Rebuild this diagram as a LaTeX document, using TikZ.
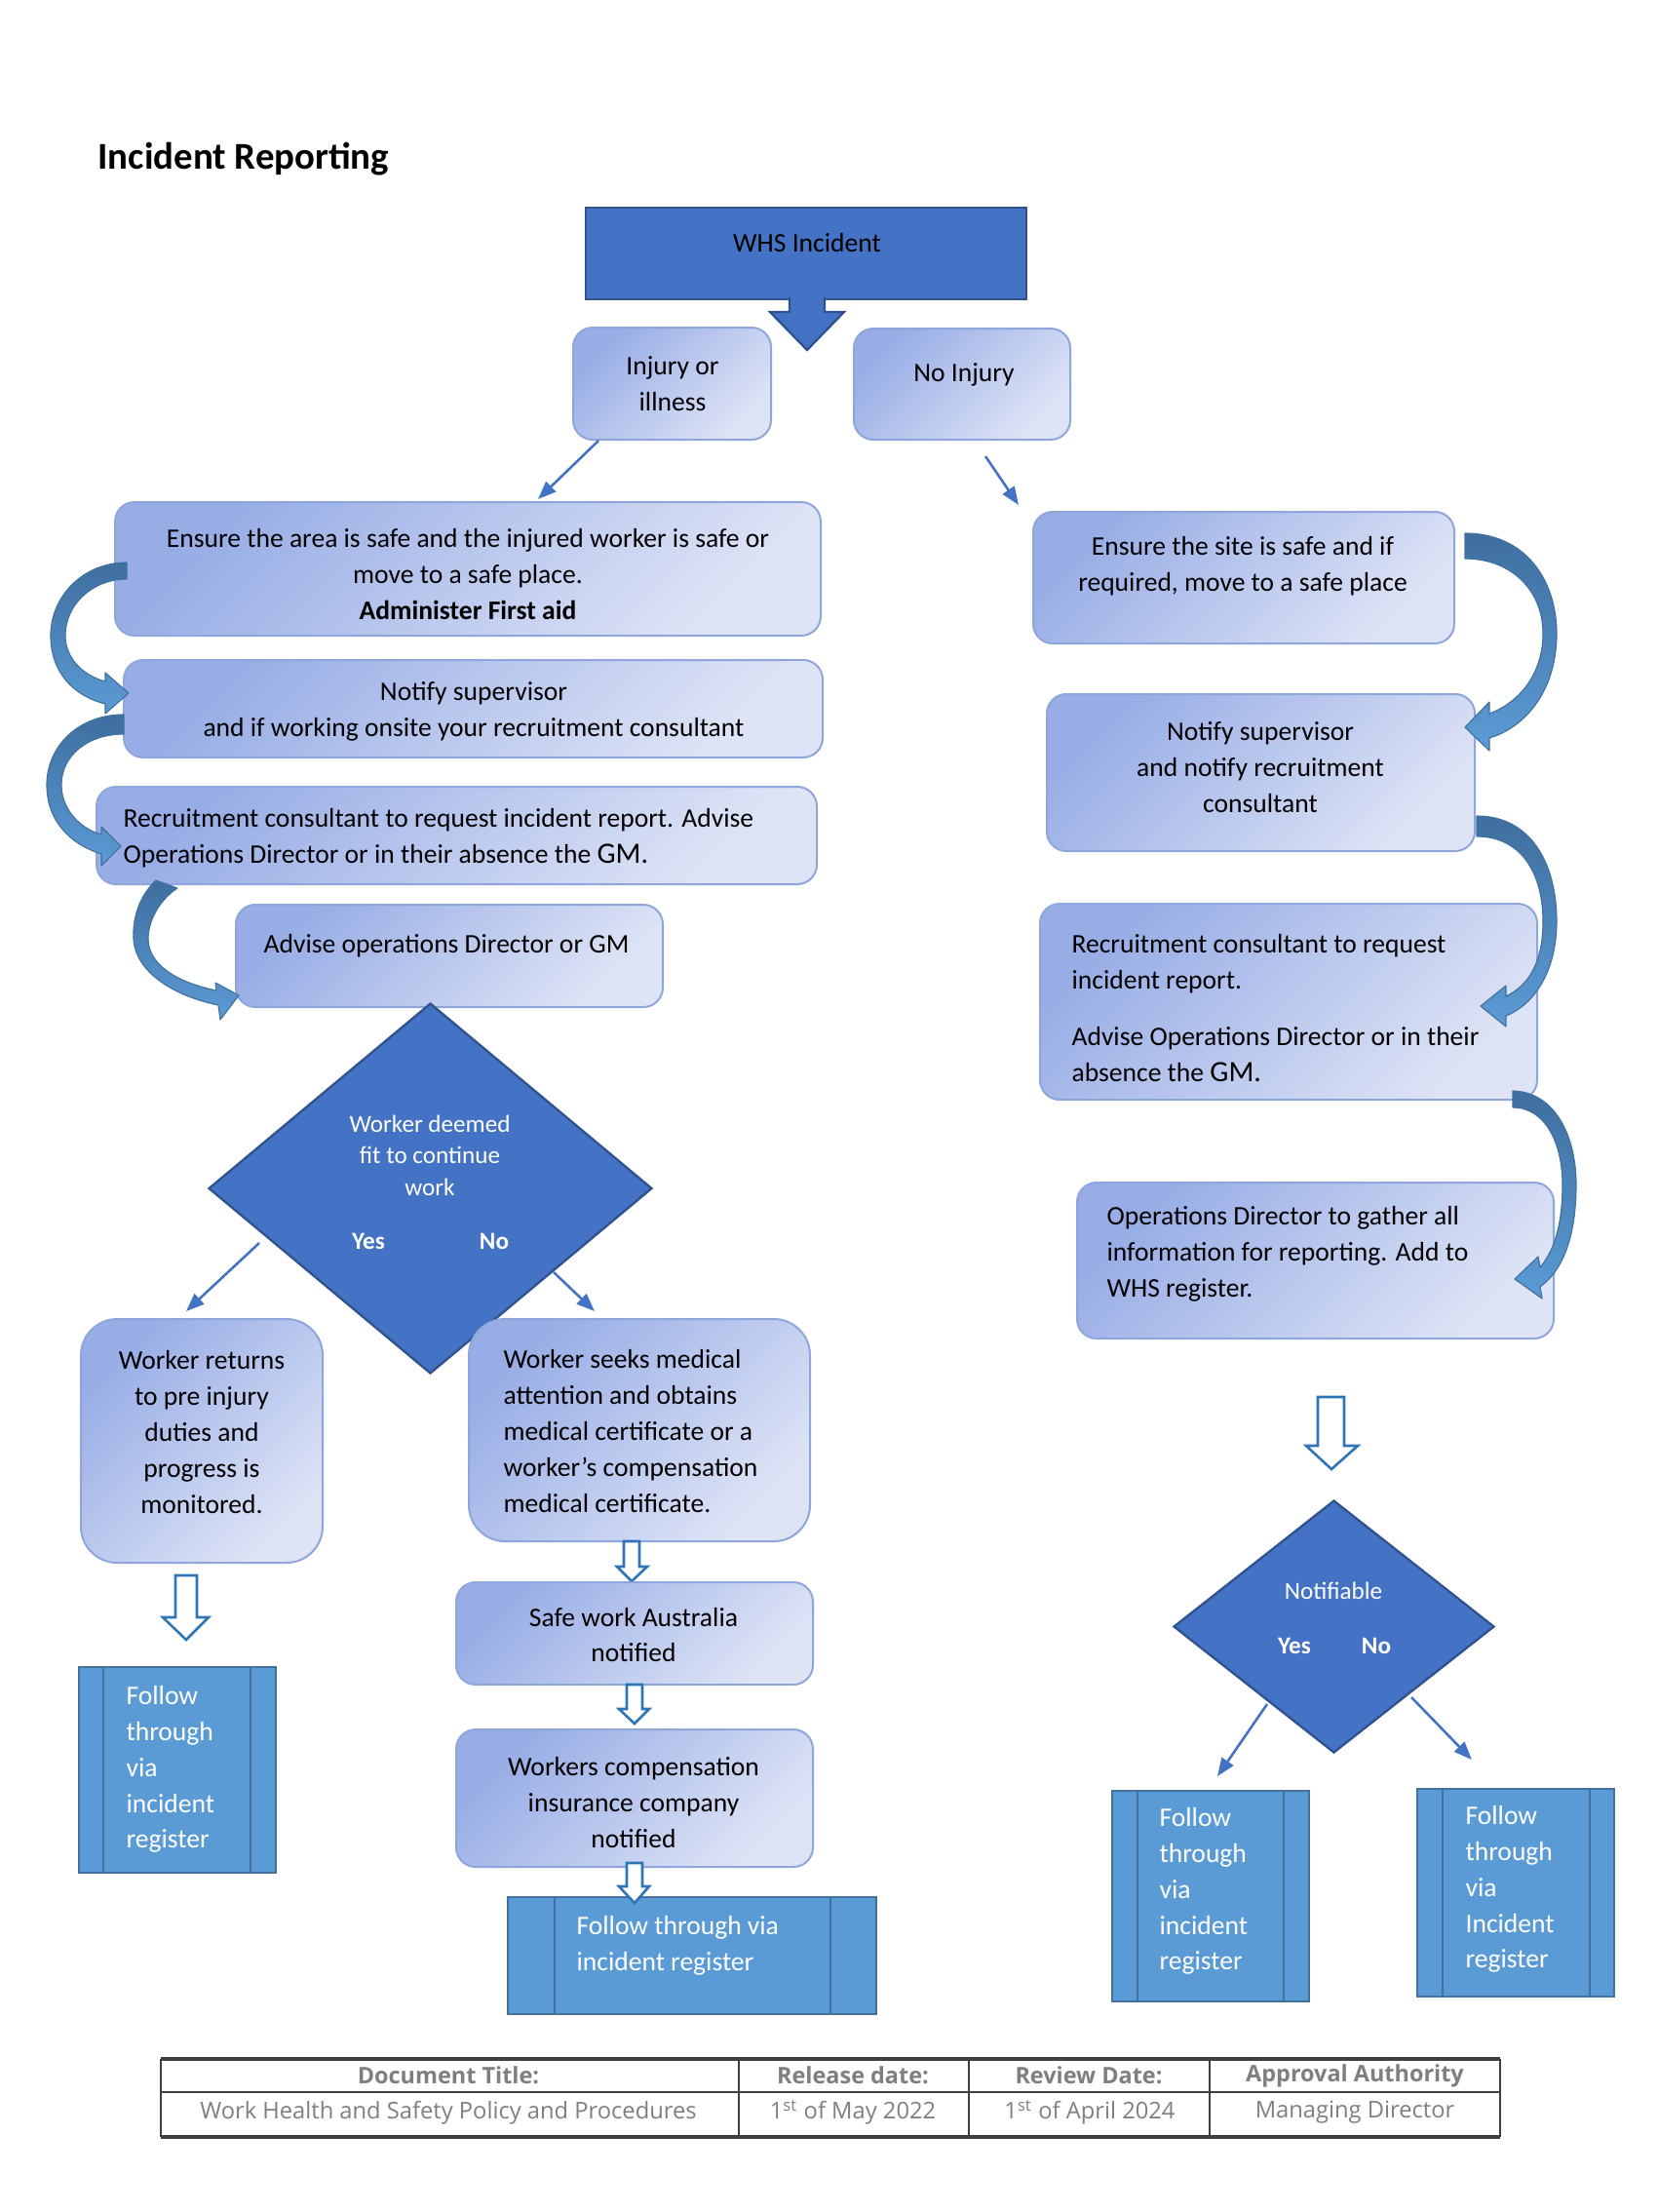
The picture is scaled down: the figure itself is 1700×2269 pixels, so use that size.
\documentclass[tikz,border=0pt]{standalone}
\usepackage{fontspec}
\setmainfont{Carlito}
\newfontfamily\tabfont{Open Sans}
\usetikzlibrary{shapes.geometric,fit,arrows.meta}
\definecolor{dblue}{HTML}{4472C4}
\definecolor{dbord}{HTML}{2F528F}
\definecolor{gdark}{HTML}{98ADE6}
\definecolor{glight}{HTML}{DEE4F6}
\definecolor{gbord}{HTML}{8FA6DB}
\definecolor{fblue}{HTML}{5B9BD5}
\definecolor{fbord}{HTML}{41719C}
\definecolor{hollow}{HTML}{2E75B6}
\definecolor{adark}{HTML}{3F6E9F}
\definecolor{alight}{HTML}{5B9BD5}
\definecolor{tgray}{HTML}{7F7F7F}
\definecolor{tline}{HTML}{404040}
\newcommand\msize{\fontsize{9.65pt}{12.9pt}\selectfont}
\newcommand\ssize{\fontsize{8.8pt}{11.4pt}\selectfont}
\newcommand\gmsize{\fontsize{10.6pt}{12.9pt}\selectfont}
\begin{document}
\begin{tikzpicture}[x=0.35pt,y=-0.35pt,
  rbox/.style={draw=gbord,line width=0.7pt,rounded corners=7pt,top color=gdark,bottom color=glight,shading angle=45,inner sep=0pt},
  bigbox/.style={rbox,rounded corners=13pt},
  fbox/.style={draw=fbord,line width=0.8pt,fill=fblue,inner sep=0pt},
  fline/.style={draw=fbord,line width=0.8pt},
  dkbox/.style={draw=dbord,line width=0.9pt,fill=dblue,inner sep=0pt},
  txt/.style={inner sep=0pt,font=\msize,text=black},
  wtxt/.style={inner sep=0pt,font=\msize,text=white},
  dtxt/.style={inner sep=0pt,font=\ssize,text=white},
  conn/.style={draw=dblue,line width=0.9pt,-{Triangle[length=6.5pt,width=5pt]}},
  holl/.style={draw=hollow,line width=0.9pt,fill=white,line join=miter},
  carrow/.style={top color=adark,bottom color=alight,draw=fbord,line width=0.4pt,line join=round},
  ttxt/.style={inner sep=0pt,font=\tabfont\fontsize{8.3pt}{10pt}\selectfont,text=tgray},
  thead/.style={inner sep=0pt,font=\tabfont\bfseries\fontsize{8.2pt}{10pt}\selectfont,text=tgray}
]
\useasboundingbox (0,0) rectangle (1700,2269);
\fill[white] (0,0) rectangle (1700,2269);

% title
\node[anchor=west,inner sep=0pt,font=\fontsize{13.6pt}{16pt}\selectfont\bfseries] (title) at (100,163) {Incident Reporting};

% top
\node[dkbox,fit={(601,213) (1053,307)}] (whs) {};
\node[txt] (whst) at (828,249) {WHS Incident};
\path[fill=dblue,draw=dbord,line width=0.8pt] (810,305) -- (810,320) -- (790,320) -- (828,359) -- (866,320) -- (846,320) -- (846,305);

\node[rbox,fit={(588,336) (791,451)}] (inj) {};
\node[txt,align=center] (injt) at (690,394) {Injury or\\illness};
\node[rbox,fit={(876,337) (1098,451)}] (noinj) {};
\node[txt] (noinjt) at (989,384) {No Injury};

\coordinate (c1s) at (614,452); \coordinate (c1e) at (552,512);
\coordinate (c2s) at (1011,468); \coordinate (c2e) at (1045,518);
\draw[conn] (c1s) -- (c1e);
\draw[conn] (c2s) -- (c2e);

% left column
\node[rbox,fit={(118,515) (842,652)}] (A) {};
\node[txt,align=center] (At) at (480,589) {Ensure the area is safe and the injured worker is safe or\\move to a safe place.\\\textbf{Administer First aid}};
\node[rbox,fit={(127,677) (844,777)}] (B) {};
\node[txt,align=center] (Bt) at (486,730) {Notify supervisor\\and if working onsite your recruitment consultant};
\node[rbox,fit={(99,807) (838,907)}] (C) {};
\node[txt,align=left,anchor=west] (Ct) at (126,860) {Recruitment consultant to request incident report. Advise\\Operations Director or in their absence the {\gmsize GM.}};
\node[rbox,fit={(242,928) (680,1033)}] (D) {};
\node[txt] (Dt) at (458,970) {Advise operations Director or GM};

% decision 1
\node[diamond,draw=dbord,line width=0.8pt,fill=dblue,inner sep=0pt,minimum width=455*0.35pt,minimum height=380*0.35pt] (dia1) at (441.5,1219) {};
\node[dtxt,align=center] (dia1t) at (441,1185) {Worker deemed\\fit to continue\\work};
\node[dtxt,font=\ssize\bfseries] (yes1) at (378,1273) {Yes};
\node[dtxt,font=\ssize\bfseries] (no1) at (507,1273) {No};
\coordinate (y1s) at (266,1275); \coordinate (y1e) at (191,1345);
\coordinate (n1s) at (568,1305); \coordinate (n1e) at (610,1345);
\draw[conn] (y1s) -- (y1e);
\draw[conn] (n1s) -- (n1e);

\node[bigbox,fit={(83,1353) (331,1603)}] (F1) {};
\node[txt,align=center] (F1t) at (207,1469) {Worker returns\\to pre injury\\duties and\\progress is\\monitored.};
\node[bigbox,fit={(481,1353) (831,1581)}] (F2) {};
\node[txt,align=left,anchor=west] (F2t) at (516,1468) {Worker seeks medical\\attention and obtains\\medical certificate or a\\worker’s compensation\\medical certificate.};

\path[holl] (180,1616) -- (202,1616) -- (202,1659) -- (214,1659) -- (191,1682) -- (167,1659) -- (180,1659) -- cycle;
\node[fbox,fit={(81,1710) (283,1921)}] (FL) {};
\draw[fline] (106,1710) -- (106,1921);
\draw[fline] (257,1710) -- (257,1921);
\node[wtxt,align=left,anchor=west] (FLt) at (129,1815) {Follow\\through\\via\\incident\\register};

\path[holl] (640,1581) -- (656,1581) -- (656,1607) -- (664,1607) -- (648,1622) -- (633,1607) -- (640,1607) -- cycle;
\node[rbox,fit={(468,1623) (834,1728)}] (SW) {};
\node[txt,align=center] (SWt) at (650,1677) {Safe work Australia\\notified};
\path[holl] (643,1728) -- (659,1728) -- (659,1753) -- (666,1753) -- (651,1768) -- (635,1753) -- (643,1753) -- cycle;
\node[rbox,fit={(468,1774) (834,1915)}] (WC) {};
\node[txt,align=center] (WCt) at (650,1849) {Workers compensation\\insurance company\\notified};
\node[fbox,fit={(521,1946) (899,2066)}] (FV) {};
\draw[fline] (569,1946) -- (569,2066);
\draw[fline] (852,1946) -- (852,2066);
\node[wtxt,align=left,anchor=west] (FVt) at (591,1996) {Follow through via\\incident register};
\path[holl] (643,1911) -- (659,1911) -- (659,1935) -- (666,1935) -- (651,1952) -- (635,1935) -- (643,1935) -- cycle;

% right column
\node[rbox,fit={(1060,525) (1492,660)}] (E) {};
\node[txt,align=center] (Et) at (1275,581) {Ensure the site is safe and if\\required, move to a safe place};
\node[rbox,fit={(1074,712) (1513,873)}] (F) {};
\node[txt,align=center] (Ft) at (1293,787) {Notify supervisor\\and notify recruitment\\consultant};
\node[rbox,fit={(1067,927) (1577,1128)}] (G) {};
\node[txt,align=left,anchor=west] (Gt) at (1099,1034) {Recruitment consultant to request\\incident report.\\[7.7pt]Advise Operations Director or in their\\absence the {\gmsize GM.}};
\node[rbox,fit={(1105,1213) (1594,1373)}] (H) {};
\node[txt,align=left,anchor=west] (Ht) at (1135,1286) {Operations Director to gather all\\information for reporting. Add to\\WHS register.};

\path[holl] (1352,1433) -- (1379,1433) -- (1379,1483) -- (1393,1483) -- (1366,1507) -- (1340,1483) -- (1352,1483) -- cycle;

\node[diamond,draw=dbord,line width=0.8pt,fill=dblue,inner sep=0pt,minimum width=329*0.35pt,minimum height=259*0.35pt] (dia2) at (1368.5,1668.5) {};
\node[dtxt] (dia2t) at (1368,1632) {Notifiable};
\node[dtxt,font=\ssize\bfseries] (yes2) at (1328,1688) {Yes};
\node[dtxt,font=\ssize\bfseries] (no2) at (1412,1688) {No};
\coordinate (y2s) at (1300,1748); \coordinate (y2e) at (1249,1822);
\coordinate (n2s) at (1448,1741); \coordinate (n2e) at (1510,1805);
\draw[conn] (y2s) -- (y2e);
\draw[conn] (n2s) -- (n2e);

\node[fbox,fit={(1141,1837) (1343,2053)}] (FR1) {};
\draw[fline] (1167,1837) -- (1167,2053);
\draw[fline] (1317,1837) -- (1317,2053);
\node[wtxt,align=left,anchor=west] (FR1t) at (1189,1940) {Follow\\through\\via\\incident\\register};
\node[fbox,fit={(1454,1835) (1656,2048)}] (FR2) {};
\draw[fline] (1480,1835) -- (1480,2048);
\draw[fline] (1631,1835) -- (1631,2048);
\node[wtxt,align=left,anchor=west] (FR2t) at (1503,1938) {Follow\\through\\via\\Incident\\register};

% curved block arrows, left
\path[carrow] (130,577) .. controls (85,577) and (52,612) .. (52,652) .. controls (52,690) and (76,714) .. (108,722) -- (108,732) -- (132,711) -- (108,690) -- (108,699) .. controls (85,693) and (67,675) .. (67,652) .. controls (67,620) and (95,594) .. (130,594) -- cycle;
\path[carrow] (127,733) .. controls (80,733) and (48,766) .. (48,805) .. controls (48,842) and (72,866) .. (104,876) -- (104,888) -- (124,868) -- (104,848) -- (104,856) .. controls (82,850) and (63,830) .. (63,805) .. controls (63,775) and (90,753) .. (127,753) -- cycle;
\path[carrow] (160,903) .. controls (142,920) and (136,943) .. (137,963) .. controls (139,998) and (180,1022) .. (224,1031) -- (226,1046) -- (245,1021) -- (221,1008) -- (222,1016) .. controls (187,1009) and (152,992) .. (152,963) .. controls (152,943) and (165,922) .. (182,911) -- cycle;
% curved block arrows, right
\path[carrow] (1503,547) .. controls (1565,547) and (1597,595) .. (1597,650) .. controls (1597,705) and (1568,745) .. (1528,757) -- (1528,770) -- (1503,746) -- (1528,720) -- (1528,732) .. controls (1560,720) and (1583,690) .. (1583,650) .. controls (1583,605) and (1550,573) .. (1503,573) -- cycle;
\path[carrow] (1515,837) .. controls (1570,837) and (1597,885) .. (1597,945) .. controls (1597,995) and (1575,1030) .. (1545,1042) -- (1545,1053) -- (1519,1032) -- (1545,1011) -- (1545,1022) .. controls (1570,1010) and (1583,985) .. (1583,945) .. controls (1583,895) and (1560,858) .. (1515,858) -- cycle;
\path[carrow] (1552,1119) .. controls (1595,1120) and (1617,1165) .. (1617,1215) .. controls (1617,1265) and (1605,1302) .. (1580,1320) -- (1582,1332) -- (1554,1312) -- (1578,1289) -- (1580,1300) .. controls (1597,1280) and (1603,1250) .. (1603,1215) .. controls (1603,1172) and (1585,1136) .. (1552,1136) -- cycle;

% footer table
\draw[tline,line width=1.2pt] (165,2112) -- (1539,2112);
\draw[tline,line width=1.0pt] (165,2146) -- (1539,2146);
\draw[tline,line width=1.2pt] (165,2192) -- (1539,2192);
\draw[tline,line width=0.6pt] (165,2112) -- (165,2192);
\draw[tline,line width=0.6pt] (758,2112) -- (758,2192);
\draw[tline,line width=0.6pt] (994,2112) -- (994,2192);
\draw[tline,line width=0.6pt] (1241,2112) -- (1241,2192);
\draw[tline,line width=0.6pt] (1539,2112) -- (1539,2192);
\node[thead] (h1) at (460,2129) {Document Title:};
\node[thead] (h2) at (875,2129) {Release date:};
\node[thead] (h3) at (1117,2129) {Review Date:};
\node[thead] (h4) at (1390,2129) {Approval Authority};
\node[ttxt] (r1) at (460,2167) {Work Health and Safety Policy and Procedures};
\node[ttxt] (r2) at (875,2167) {1\textsuperscript{st} of May 2022};
\node[ttxt] (r3) at (1118,2167) {1\textsuperscript{st} of April 2024};
\node[ttxt] (r4) at (1390,2167) {Managing Director};
\end{tikzpicture}
\end{document}
